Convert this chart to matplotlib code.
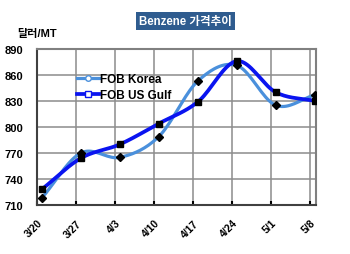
import matplotlib
matplotlib.use("Agg")
import matplotlib.pyplot as plt
import numpy as np

dates = ["3/20", "3/27", "4/3", "4/10", "4/17", "4/24", "5/1", "5/8"]
korea = [718, 770, 765, 789, 853, 871, 825, 837]
us_gulf = [728, 764, 780, 804, 829, 876, 840, 830]
yticks = [710, 740, 770, 800, 830, 860, 890]

FAM = ["Liberation Sans", "Noto Sans CJK KR", "DejaVu Sans"]
plt.rcParams["font.family"] = FAM


def smooth(x, y, n=20):
    # Catmull-Rom curve through the points, like the spreadsheet's smoothed line
    x = np.asarray(x, float)
    y = np.asarray(y, float)
    px = np.concatenate([[2 * x[0] - x[1]], x, [2 * x[-1] - x[-2]]])
    py = np.concatenate([[2 * y[0] - y[1]], y, [2 * y[-1] - y[-2]]])
    xs, ys = [], []
    t = np.linspace(0, 1, n)
    for i in range(1, len(px) - 2):
        for p, out in ((px, xs), (py, ys)):
            p0, p1, p2, p3 = p[i - 1], p[i], p[i + 1], p[i + 2]
            out.extend(0.5 * (2 * p1 + (-p0 + p2) * t
                              + (2 * p0 - 5 * p1 + 4 * p2 - p3) * t ** 2
                              + (-p0 + 3 * p1 - 3 * p2 + p3) * t ** 3))
    return np.array(xs), np.array(ys)


fig = plt.figure(figsize=(3.5, 2.55), dpi=100)
ax = fig.add_axes([0.106, 0.192, 0.797, 0.612])

ticks = np.arange(len(dates))
x = ticks + 0.12

kx, ky = smooth(x, korea)
ux, uy = smooth(x, us_gulf)
ax.plot(kx, ky, color="#4A90DC", lw=2.3, zorder=3)
ax.plot(ux, uy, color="#0A14F0", lw=2.7, zorder=4)
ax.plot(x, korea, "D", color="black", ms=4.5, zorder=5)
ax.plot(x, us_gulf, "s", color="black", ms=5, zorder=5)

# legend proxies
ax.plot([], [], color="#4A90DC", lw=2.3, marker="o", ms=4, mfc="white",
        mec="#4A90DC", label="FOB Korea")
ax.plot([], [], color="#0A14F0", lw=2.7, marker="s", ms=4.5, mfc="white",
        mec="#0A14F0", label="FOB US Gulf")
leg = ax.legend(loc="upper left", bbox_to_anchor=(0.125, 0.875), frameon=False,
                prop={"weight": "bold", "size": 8.5}, handlelength=1.9,
                handletextpad=0.1, borderaxespad=0, labelspacing=0.35)

ax.set_xlim(0, 7.15)
ax.set_ylim(710, 890)
ax.set_xticks(ticks)
ax.set_xticklabels(dates, rotation=45, ha="right", rotation_mode="anchor",
                   fontsize=7.5, fontweight="bold")
ax.set_yticks(yticks)
ax.set_yticklabels([str(v) for v in yticks], fontsize=8, fontweight="bold")
ax.tick_params(axis="y", length=0, pad=10)
ax.tick_params(axis="x", length=3, width=1.5, direction="in", pad=9)
ax.grid(True, color="#8C8C8C", lw=1.1)
ax.set_axisbelow(True)
for s in ax.spines.values():
    s.set_color("#808080")
    s.set_linewidth(1.5)
ax.spines["left"].set_color("#404040")
ax.spines["bottom"].set_color("#404040")

fig.text(0.05, 0.855, "달러/MT", fontsize=8, fontweight="bold", family=FAM)
fig.text(0.53, 0.915, "Benzene 가격추이", fontsize=8.3, fontweight="bold",
         color="white", ha="center", va="center", family=FAM,
         bbox=dict(boxstyle="square,pad=0.25", fc="#2F5C8F", ec="none"))

fig.savefig("out.png", dpi=100)
